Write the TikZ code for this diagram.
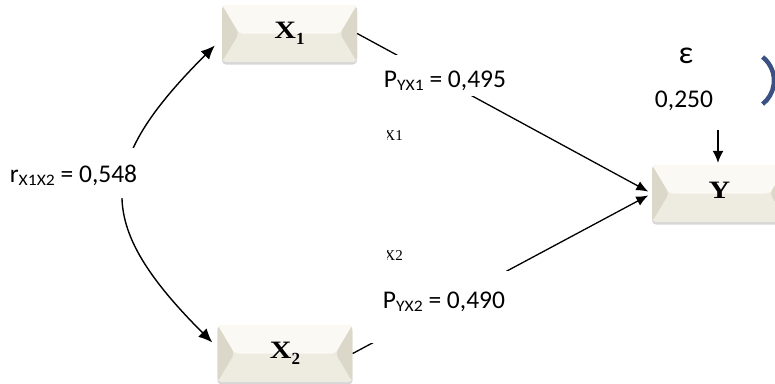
\documentclass[tikz,border=0pt]{standalone}
\usepackage{fontspec}
\setmainfont{Carlito}
\newfontfamily\tnr{Liberation Serif}
\usetikzlibrary{calc,arrows.meta,shadows}

\definecolor{btnface}{HTML}{FAF9F4}
\definecolor{btnside}{HTML}{DCD8C9}
\definecolor{btnbottom}{HTML}{EEEBE1}
\definecolor{arcblue}{HTML}{3B5183}

\newcommand{\lsub}[1]{\raisebox{-3pt}{\fontsize{16}{16}\selectfont\scalebox{1.1}[1]{#1}}}
\newcommand{\vname}[2]{{\tnr\bfseries\scalebox{1.2}[1]{\fontsize{25}{25}\selectfont #1}\raisebox{-6pt}{\fontsize{17}{17}\selectfont #2}}}

\begin{document}
\begin{tikzpicture}[x=1pt,y=-1pt,
  btn/.style={minimum width=135pt, minimum height=57pt, inner sep=0pt, rounded corners=4pt,
    fill=btnbottom,
    drop shadow={shadow xshift=0pt,shadow yshift=-2.5pt,opacity=0.35,fill=black!45},
    path picture={
      \fill[btnface] (path picture bounding box.north west) -- (path picture bounding box.north east)
         -- ($(path picture bounding box.east)+(-17pt,0pt)$) -- ($(path picture bounding box.west)+(17pt,0pt)$) -- cycle;
      \fill[btnside] (path picture bounding box.north west) -- ($(path picture bounding box.west)+(17pt,0pt)$)
         -- (path picture bounding box.south west) -- cycle;
      \fill[btnside] (path picture bounding box.north east) -- ($(path picture bounding box.east)+(-17pt,0pt)$)
         -- (path picture bounding box.south east) -- cycle;
    }},
  conn/.style={line width=1.3pt, -{Latex[length=12pt,width=10pt]}, shorten >=4pt},
  corr/.style={line width=1.4pt, {Latex[length=14pt,width=12pt]}-{Latex[length=14pt,width=12pt]}},
  lbl/.style={fill=white, font=\fontsize{25.5}{25.5}\selectfont, anchor=base},
  frag/.style={font=\tnr\fontsize{15}{15}\selectfont, anchor=base east, inner sep=0pt}
]
\useasboundingbox (0,0) rectangle (775,383);

% blue arc fragment
\draw[arcblue, line width=4.5pt] (762.6,57) arc[start angle=-51.7, end angle=51.7, radius=30];

% boxes
\node[btn] (X1) at (289.5,33.5) {\vname{X}{1}};
\node[btn] (X2) at (285,353.5) {\vname{X}{2}};
\node[btn] (Y) at (719.5,193.5) {\vname{Y}{}};

% paths
\draw[conn] (X1.east) -- (Y.west);
\draw[conn] (X2.east) -- (Y.west);
\draw[corr] ($(X1.west)+(-7,12)$) .. controls +(-119,119) and +(-119,-119) .. ($(X2.west)+(-5,-11)$);

% fragments
\begin{scope}
  \clip (387,118) rectangle (410,270);
  \node[frag] (f1) at (403,140) {X1};
  \node[frag] (f2) at (403,260) {X2};
\end{scope}

% labels
\node[lbl, text height=29pt, text depth=6pt, inner xsep=20pt, inner ysep=3pt] (p1) at (445,87) {P\lsub{YX1} = 0,495};
\node[lbl, text height=34pt, text depth=32pt, inner xsep=20pt, inner ysep=3pt] (p2) at (444,308) {P\lsub{YX2} = 0,490};
\node[lbl, text height=31pt, text depth=13pt, inner xsep=11pt, inner ysep=3pt] (r) at (73.5,182) {r\lsub{X1X2} = 0,548};
\node[lbl, inner xsep=20pt, inner ysep=4pt, text depth=6pt] (e0) at (684,107) {0,250};
\node[lbl, font=\fontsize{32}{32}\selectfont, inner sep=2pt] (eps) at (686,63) {ε};

% error arrow
\coordinate (et) at ($(Y.north)+(-1.5,-35)$);
\draw[line width=1.3pt, -{Latex[length=12pt,width=11pt]}, shorten >=2pt] (et) -- (et |- Y.north);
\end{tikzpicture}
\end{document}
